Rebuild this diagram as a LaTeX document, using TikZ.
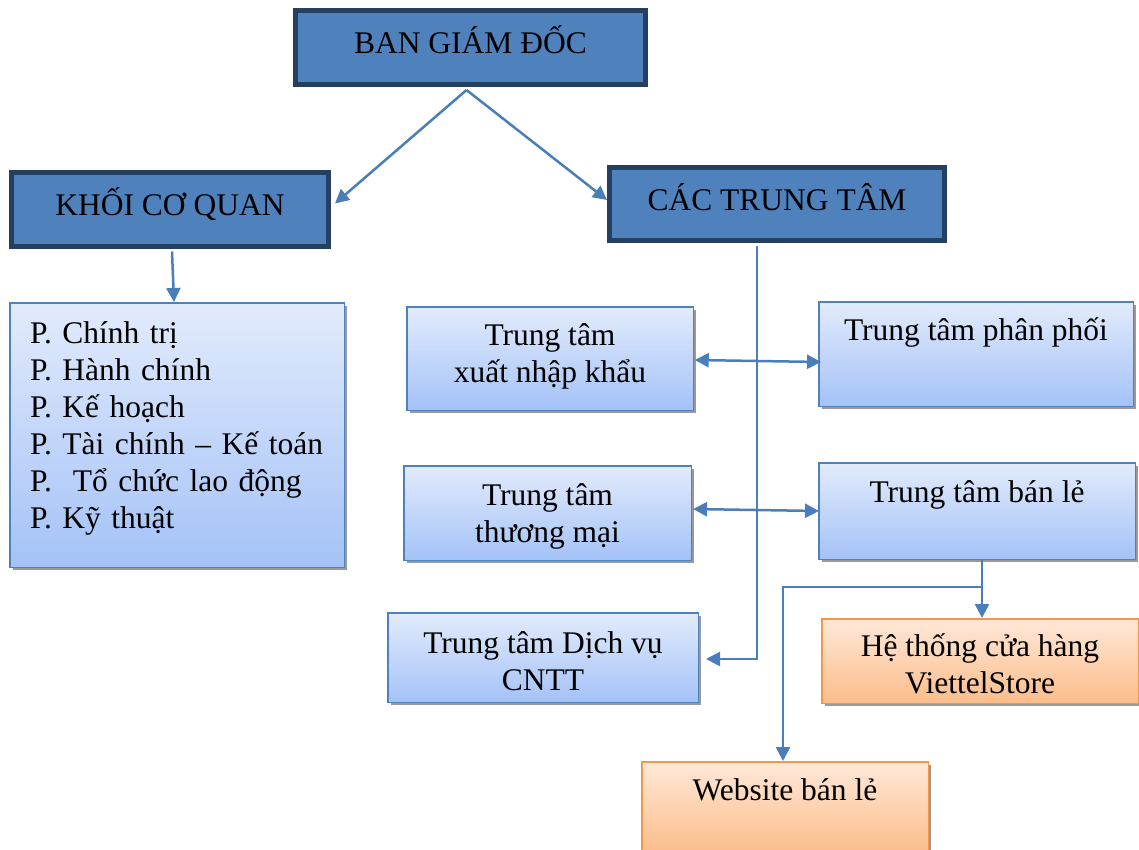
\documentclass[tikz,border=0pt]{standalone}
\usepackage{fontspec}
\setmainfont{Liberation Serif}
\usetikzlibrary{arrows.meta,calc,shadows}

\definecolor{headfill}{HTML}{4F81BD}
\definecolor{headline}{HTML}{243F60}
\definecolor{unitline}{HTML}{4F81BD}
\definecolor{unittop}{HTML}{E2EBFC}
\definecolor{unitbot}{HTML}{A4C2F7}
\definecolor{shoptop}{HTML}{FFE8D8}
\definecolor{shopbot}{HTML}{FBBD8A}
\definecolor{shopline}{HTML}{F79646}
\definecolor{linkblue}{HTML}{4A7EBB}

\begin{document}
\begin{tikzpicture}[x=1pt,y=-1pt,
  every node/.style={font=\fontsize{31.5}{37}\selectfont\frenchspacing, inner sep=0pt},
  head/.style={draw=headline, line width=5pt, fill=headfill},
  boxshadow/.style={drop shadow={shadow xshift=3pt, shadow yshift=-3pt, fill=black!40, opacity=1}},
  unit/.style={draw=unitline, line width=1.5pt, top color=unittop, bottom color=unitbot, boxshadow},
  shop/.style={draw=shopline, line width=1.5pt, top color=shoptop, bottom color=shopbot, boxshadow},
  tip/.tip={Triangle[length=14pt,width=14pt]},
  conn/.style={draw=linkblue, line width=2.5pt, -tip},
  conntwo/.style={draw=linkblue, line width=2.5pt, tip-tip},
]
\useasboundingbox (0,0) rectangle (1139,849);

% management level
\node[head, minimum width=350pt, minimum height=74pt, text height=25.5pt, text depth=14.5pt]
  (bgd) at (470.5,47.5) {BAN GIÁM ĐỐC};
\node[head, minimum width=317pt, minimum height=74pt, text height=25.5pt, text depth=14.5pt]
  (kcq) at (170,209.5) {KHỐI CƠ QUAN};
\node[head, minimum width=335pt, minimum height=73pt, text height=26pt, text depth=14pt]
  (ctt) at (777,204) {CÁC TRUNG TÂM};

% departments
\node[unit, minimum width=334.5pt, minimum height=264.5pt, text width=294pt, align=left,
  text height=23pt, text depth=207pt] (list) at (177,435)
  {P. Chính trị\\P. Hành chính\\P. Kế hoạch\\P. Tài chính – Kế toán\\P.\ \ Tổ chức lao động\\P. Kỹ thuật};

% centres
\node[unit, minimum width=286.5pt, minimum height=103.5pt, align=center, text height=53.5pt, text depth=6.5pt]
  (xnk) at (550,358.5) {Trung tâm\\xuất nhập khẩu};
\node[unit, minimum width=314.5pt, minimum height=104.5pt, align=center, text height=16pt, text depth=44pt]
  (ppf) at (976,354) {Trung tâm phân phối};
\node[unit, minimum width=287.5pt, minimum height=94.5pt, align=center, text height=64pt, text depth=6pt]
  (tm) at (547.5,513) {Trung tâm\\thương mại};
\node[unit, minimum width=316.5pt, minimum height=96.5pt, align=center, text height=21pt, text depth=39pt]
  (bl) at (977,511) {Trung tâm bán lẻ};
\node[unit, minimum width=310.5pt, minimum height=89.5pt, align=center, text height=67.5pt, text depth=2.5pt]
  (dv) at (543,657.5) {Trung tâm Dịch vụ\\CNTT};

% retail channels
\node[shop, minimum width=316.5pt, minimum height=84.5pt, align=center, text height=67pt, text depth=3pt]
  (ht) at (980,661) {Hệ thống cửa hàng\\ViettelStore};
\node[shop, minimum width=286.5pt, minimum height=92.5pt, align=center, text height=22pt, text depth=38pt]
  (web) at (785,808) {Website bán lẻ};

% connectors
\draw[conn] ($(bgd.south)+(-4,3)$) -- ($(kcq.east)+(4,-6)$);
\draw[conn] ($(bgd.south)+(-4,3)$) -- ($(ctt.west)+(0,-4)$);
\draw[conn] ($(kcq.south)+(2,2.5)$) -- ($(list.north)+(-3,0)$);

\coordinate (trunk) at (757,659);
\draw[conn] ($(ctt.south -| trunk)+(0,2.5)$) -- (trunk) -- ($(dv.east |- trunk)+(7,0)$);

\draw[conntwo] ($(xnk.east)+(0.75,1.5)$) -- ($(ppf.west)+(3,8)$);
\draw[conntwo] ($(tm.east)+(1,-4)$) -- ($(bl.west)+(1,0)$);

\coordinate (drop) at ($(bl.south)+(5,0)$);
\coordinate (split) at ($(bl.south)+(5,27)$);
\draw[conn] (drop) -- (drop |- ht.north);
\draw[conn] (split) -| ($(web.north)+(-2,0)$);
\end{tikzpicture}
\end{document}
